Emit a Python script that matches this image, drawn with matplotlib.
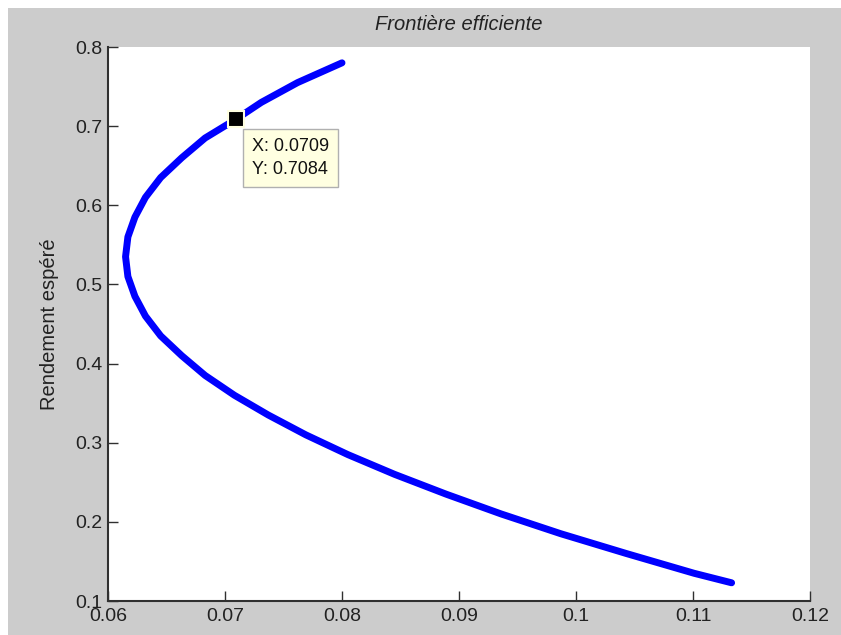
import matplotlib
matplotlib.use("Agg")
import matplotlib.pyplot as plt
from matplotlib.patches import Rectangle

# efficient frontier (risk, expected return)
risk = [0.0800, 0.0762, 0.0731, 0.0709, 0.0683, 0.0663, 0.0645, 0.0632,
        0.0623, 0.0617, 0.0615, 0.0617, 0.0623, 0.0632, 0.0645, 0.0663,
        0.0683, 0.0708, 0.0737, 0.0769, 0.0805, 0.0845, 0.0889, 0.0936,
        0.0987, 0.1043, 0.1101, 0.1133]
rendement = [0.780, 0.755, 0.730, 0.7084, 0.685, 0.660, 0.635, 0.610,
             0.585, 0.560, 0.535, 0.510, 0.485, 0.460, 0.435, 0.410,
             0.385, 0.360, 0.335, 0.310, 0.285, 0.260, 0.235, 0.210,
             0.185, 0.160, 0.135, 0.123]

tip_x = 0.0709
tip_y = 0.7084

xticks = [0.06, 0.07, 0.08, 0.09, 0.1, 0.11, 0.12]
yticks = [0.1, 0.2, 0.3, 0.4, 0.5, 0.6, 0.7, 0.8]

plt.rcParams["font.family"] = ["Liberation Sans", "DejaVu Sans"]

fig = plt.figure(figsize=(8.41, 6.35), dpi=100, facecolor="white")
fig.patches.append(Rectangle((8 / 841, 0), 1, 1 - 8 / 635, transform=fig.transFigure,
                             facecolor="#cccccc", edgecolor="none", zorder=-10))

ax = fig.add_axes([108 / 841, 34 / 635, 702 / 841, 554 / 635])
ax.set_facecolor("white")

ax.plot(risk, rendement, color="#0000ff", linewidth=5, solid_capstyle="round",
        solid_joinstyle="round")

# data cursor
ax.plot([tip_x], [tip_y], marker="s", markersize=11, markerfacecolor="black",
        markeredgecolor="#ffffe1", markeredgewidth=1.5, zorder=5)
ax.annotate(f"X: {tip_x:.4f}\nY: {tip_y:.4f}", xy=(tip_x, tip_y),
            xytext=(12, -13.5), textcoords="offset points", ha="left", va="top",
            fontsize=13, linespacing=1.45, color="#111111",
            bbox=dict(boxstyle="square,pad=0.5", facecolor="#ffffe1",
                      edgecolor="#b0b0b0", linewidth=1), zorder=6)

ax.set_xlim(0.06, 0.12)
ax.set_ylim(0.1, 0.8)
ax.set_xticks(xticks)
ax.set_xticklabels([f"{v:g}" for v in xticks])
ax.set_yticks(yticks)
ax.set_yticklabels([f"{v:g}" for v in yticks])

for side in ["top", "right"]:
    ax.spines[side].set_visible(False)
for side in ["left", "bottom"]:
    ax.spines[side].set_color("#303030")
    ax.spines[side].set_linewidth(1.5)

ax.tick_params(direction="in", length=7, width=1, colors="#303030",
               labelsize=14, labelcolor="#222222")
ax.tick_params(axis="x", pad=5)
ax.tick_params(axis="y", pad=4)

ax.set_title("Frontière efficiente", fontsize=14.5, style="italic", color="#222222", pad=12)
ax.set_ylabel("Rendement espéré", fontsize=14.5, color="#222222", labelpad=12)

fig.savefig("out.png", dpi=100, facecolor=fig.get_facecolor())
